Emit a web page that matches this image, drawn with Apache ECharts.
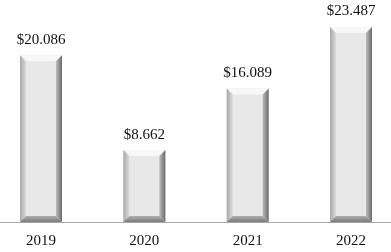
<!DOCTYPE html>
<html><head><meta charset="utf-8">
<script src="https://cdn.jsdelivr.net/npm/echarts@6/dist/echarts.min.js"></script>
<style>html,body{margin:0;padding:0;background:#fff}#c{width:391px;height:252px}</style>
</head><body><div id="c"></div>
<script>
var categories = ['2019', '2020', '2021', '2022'];
var values = [20.086, 8.662, 16.089, 23.487];
var labels = ['$20.086', '$8.662', '$16.089', '$23.487'];

var chart = echarts.init(document.getElementById('c'), null, {renderer: 'canvas'});
function renderItem(params, api) {
  var idx = api.value(0);
  var top = api.coord([idx, api.value(1)]);
  var base = api.coord([idx, 0]);
  var w = 42;
  var x0 = top[0] - w / 2, x1 = top[0] + w / 2;
  var y0 = top[1], y1 = base[1];
  var b = 6;
  return {
    type: 'group',
    children: [
      {type: 'rect', shape: {x: x0, y: y0, width: w, height: y1 - y0}, style: {fill: '#e8e8e8'}},
      {type: 'polygon', shape: {points: [[x0, y0], [x1, y0], [x1 - b, y0 + b], [x0 + b, y0 + b]]}, style: {fill: '#f8f8f8'}},
      {type: 'polygon', shape: {points: [[x0, y0], [x0 + b, y0 + b], [x0 + b, y1 - b], [x0, y1]]},
        style: {fill: new echarts.graphic.LinearGradient(0, 0, 1, 0, [{offset: 0, color: '#a8a8a8'}, {offset: 1, color: '#dcdcdc'}])}},
      {type: 'polygon', shape: {points: [[x1, y0], [x1, y1], [x1 - b, y1 - b], [x1 - b, y0 + b]]},
        style: {fill: new echarts.graphic.LinearGradient(0, 0, 1, 0, [{offset: 0, color: '#bcbcbc'}, {offset: 1, color: '#6a6a6a'}])}},
      {type: 'polygon', shape: {points: [[x0, y1], [x0 + b, y1 - b], [x1 - b, y1 - b], [x1, y1]]},
        style: {fill: new echarts.graphic.LinearGradient(0, 0, 0, 1, [{offset: 0, color: '#b0b0b0'}, {offset: 1, color: '#7a7a7a'}])}},
      {type: 'text', style: {text: labels[idx], x: top[0], y: y0 - 8, align: 'center', verticalAlign: 'bottom',
        font: '15px "Liberation Serif"', fill: '#111'}}
    ]
  };
}
chart.setOption({
  animation: false,
  grid: {left: 0, right: 0, top: 14.5, bottom: 30},
  xAxis: {
    type: 'value', min: -0.397, max: 3.387,
    splitLine: {show: false},
    axisLine: {show: true, onZero: false, lineStyle: {color: '#a8a8a8', width: 1}},
    axisTick: {show: false},
    axisLabel: {customValues: [0, 1, 2, 3], formatter: function (v) { return categories[Math.round(v)]; },
      margin: 12, fontFamily: 'Liberation Serif', fontSize: 15, color: '#111'}
  },
  yAxis: {type: 'value', min: 0, max: 25, show: false, splitLine: {show: false}},
  series: [{
    type: 'custom', renderItem: renderItem,
    data: values.map(function (v, i) { return [i, v]; }),
    encode: {x: 0, y: 1}
  }]
});
</script></body></html>
